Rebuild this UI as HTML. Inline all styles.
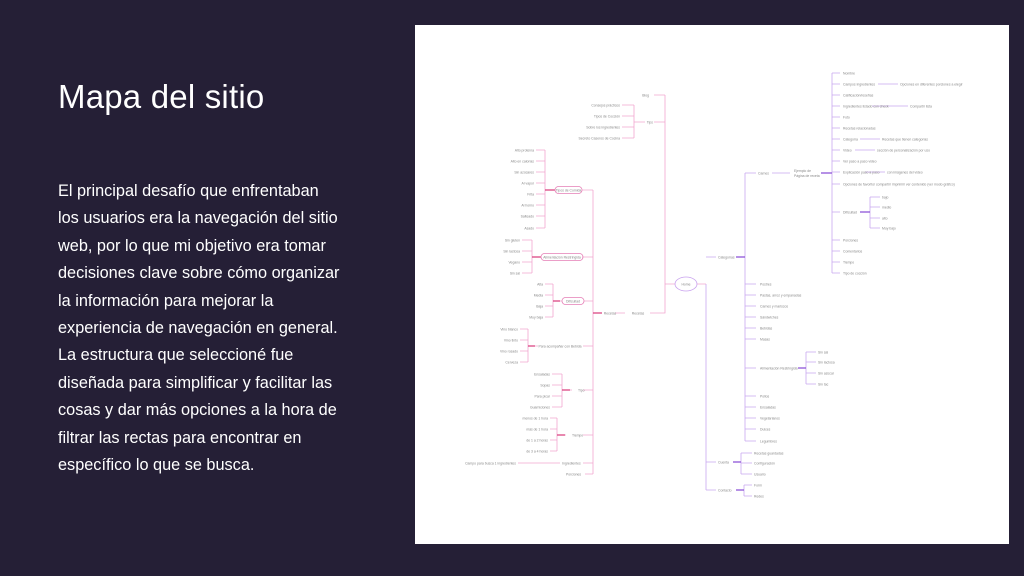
<!DOCTYPE html>
<html><head><meta charset="utf-8"><style>
html,body{margin:0;padding:0;}
body{width:1024px;height:576px;background:#251f36;position:relative;overflow:hidden;font-family:"Liberation Sans",sans-serif;color:#fff;}
h1{position:absolute;left:58px;top:78px;margin:0;font-weight:300;font-size:33px;letter-spacing:0.2px;}
p{position:absolute;left:58px;top:178px;margin:0;font-size:16.3px;line-height:27.4px;width:340px;white-space:nowrap;}
.panel{position:absolute;left:415px;top:25px;width:594px;height:519px;background:#fff;}
svg{position:absolute;left:0;top:0;}
text{font-family:"Liberation Sans",sans-serif;font-size:3.4px;fill:#888;}
</style></head><body>
<h1>Mapa del sitio</h1>
<p>El principal desafío que enfrentaban<br>los usuarios era la navegación del sitio<br>web, por lo que mi objetivo era tomar<br>decisiones clave sobre cómo organizar<br>la información para mejorar la<br>experiencia de navegación en general.<br>La estructura que seleccioné fue<br>diseñada para simplificar y facilitar las<br>cosas y dar más opciones a la hora de<br>filtrar las rectas para encontrar en<br>específico lo que se busca.</p>
<div class="panel"></div>
<svg width="1024" height="576" viewBox="0 0 1024 576">
<g fill="none" stroke-width="0.8">
<g stroke="#f2a6cf">
<path d="M697 284 H706 M675 284 H665 M665 95 V284 M665 95 H654 M665 122 H654 M634 105 V138 M622 105 H634 M622 116 H634 M622 127 H634 M622 138 H634 M634 122 H645"/>
<path d="M665 284 V313 H650 M625 313 H615 M593 190 V474 M593 190 H582 M593 257 H582 M593 301 H584 M593 346 H583 M593 390 H583 M593 435 H583 M593 463 H583 M593 474 H585"/>
<path d="M545 150 V228 M536 150 H545 M536 161 H545 M536 172 H545 M536 183 H545 M536 194 H545 M536 205 H545 M536 216 H545 M536 228 H545 M545 190 H555"/>
<path d="M532 240 V273 M522 240 H532 M522 251 H532 M522 262 H532 M522 273 H532 M532 257 H541"/>
<path d="M553 284 V317 M545 284 H553 M545 295 H553 M545 306 H553 M545 317 H553 M553 301 H562"/>
<path d="M528 329 V362 M520 329 H528 M520 340 H528 M520 351 H528 M520 362 H528 M528 346 H538"/>
<path d="M562 374 V407 M552 374 H562 M552 385 H562 M552 396 H562 M552 407 H562 M562 390 H572"/>
<path d="M557 418 V451 M550 418 H557 M550 429 H557 M550 440 H557 M550 451 H557 M557 435 H566 M518 463 H560"/>
</g>
<g stroke="#d9417f" stroke-width="1.2"><path d="M593 313 H602 M545 190 H555 M532 257 H541 M553 301 H560 M528 346 H535 M562 390 H570 M557 435 H565"/></g>
<rect x="555" y="186.5" width="27" height="7" rx="3.5" stroke="#e57fb6"/>
<rect x="541" y="253.5" width="42" height="7" rx="3.5" stroke="#e57fb6"/>
<rect x="562" y="297.5" width="22" height="7" rx="3.5" stroke="#e57fb6"/>
<ellipse cx="686" cy="284" rx="11" ry="7" stroke="#c9a2ee"/>
<g stroke="#c9a7f0">
<path d="M706 284 V490 M706 257 H716 M706 462 H716 M706 490 H716 M745 173 V441 M745 173 H756 M772 173 H790 M832 73 V273"/>
<path d="M832 73 H840 M832 84 H840 M832 95 H840 M832 106 H840 M832 117 H840 M832 128 H840 M832 139 H840 M832 150 H840 M832 161 H840 M832 172 H840 M832 184 H840 M832 212 H840 M832 240 H840 M832 251 H840 M832 262 H840 M832 273 H840"/>
<path d="M878 84 H898 M872 106 H908 M860 139 H880 M855 150 H875 M865 172 H885 M870 197 V228 M870 197 H880 M870 207 H880 M870 218 H880 M870 228 H880"/>
<path d="M745 284 H756 M745 295 H756 M745 306 H756 M745 317 H756 M745 328 H756 M745 339 H756 M745 368 H756 M745 396 H756 M745 407 H756 M745 418 H756 M745 429 H756 M745 441 H756"/>
<path d="M806 352 V384 M806 352 H816 M806 362 H816 M806 373 H816 M806 384 H816"/>
<path d="M741 453 V474 M741 453 H752 M741 463 H752 M741 474 H752 M744 485 V496 M744 485 H752 M744 496 H752"/>
</g>
<g stroke="#8a4fd6" stroke-width="1.2"><path d="M736 257 H745 M821 173 H832 M860 212 H870 M798 368 H806 M733 462 H741 M736 490 H744"/></g>
</g>
<g>
<text x="649" y="96.5" text-anchor="end">Blog</text>
<text x="653" y="123.5" text-anchor="end">Tips</text>
<text x="620" y="106.5" text-anchor="end">Consejos prácticos</text>
<text x="620" y="117.5" text-anchor="end">Tipos de Cocción</text>
<text x="620" y="128.5" text-anchor="end">Sobre los ingredientes</text>
<text x="620" y="139.5" text-anchor="end">Secreto Caseros de Cocina</text>
<text x="686" y="285.5" text-anchor="middle">Home</text>
<text x="638" y="314.5" text-anchor="middle">Recetas</text>
<text x="610" y="314.5" text-anchor="middle">Recetas</text>
<text x="568.5" y="191.5" text-anchor="middle">Tipos de Comida</text>
<text x="562" y="258.5" text-anchor="middle">Alimentación Restringida</text>
<text x="573" y="302.5" text-anchor="middle">Dificultad</text>
<text x="560" y="347.5" text-anchor="middle">Para acompañar con Bebida</text>
<text x="578" y="391.5">Tipo</text>
<text x="572" y="436.5">Tiempo</text>
<text x="562" y="464.5">Ingredientes</text>
<text x="566" y="475.5">Porciones</text>
<text x="534" y="151.5" text-anchor="end">Alto proteína</text>
<text x="534" y="162.5" text-anchor="end">Alto en calorías</text>
<text x="534" y="173.5" text-anchor="end">Sin azúcares</text>
<text x="534" y="184.5" text-anchor="end">Al vapor</text>
<text x="534" y="195.5" text-anchor="end">Frita</text>
<text x="534" y="206.5" text-anchor="end">Al horno</text>
<text x="534" y="217.5" text-anchor="end">Salteado</text>
<text x="534" y="229.5" text-anchor="end">Asado</text>
<text x="520" y="241.5" text-anchor="end">Sin gluten</text>
<text x="520" y="252.5" text-anchor="end">Sin lactosa</text>
<text x="520" y="263.5" text-anchor="end">Vegano</text>
<text x="520" y="274.5" text-anchor="end">Sin sal</text>
<text x="543" y="285.5" text-anchor="end">Alta</text>
<text x="543" y="296.5" text-anchor="end">Media</text>
<text x="543" y="307.5" text-anchor="end">Baja</text>
<text x="543" y="318.5" text-anchor="end">Muy baja</text>
<text x="518" y="330.5" text-anchor="end">Vino blanco</text>
<text x="518" y="341.5" text-anchor="end">Vino tinto</text>
<text x="518" y="352.5" text-anchor="end">Vino rosado</text>
<text x="518" y="363.5" text-anchor="end">Cerveza</text>
<text x="550" y="375.5" text-anchor="end">Ensaladas</text>
<text x="550" y="386.5" text-anchor="end">Sopas</text>
<text x="550" y="397.5" text-anchor="end">Para picar</text>
<text x="550" y="408.5" text-anchor="end">Guarniciones</text>
<text x="548" y="419.5" text-anchor="end">menos de 1 hora</text>
<text x="548" y="430.5" text-anchor="end">más de 1 hora</text>
<text x="548" y="441.5" text-anchor="end">de 1 a 2 horas</text>
<text x="548" y="452.5" text-anchor="end">de 3 a 4 horas</text>
<text x="516" y="464.5" text-anchor="end">Campo para busca 1 ingredientes</text>
<text x="718" y="258.5">Categorías</text>
<text x="718" y="463.5">Cuenta</text>
<text x="718" y="491.5">Contacto</text>
<text x="758" y="174.5">Carnes</text>
<text x="794" y="172">Ejemplo de</text>
<text x="794" y="177">Página de receta</text>
<text x="843" y="74.5">Nombre</text>
<text x="843" y="85.5">Campos ingredientes</text>
<text x="900" y="85.5">Opciones en diferentes porciones a elegir</text>
<text x="843" y="96.5">Calificación/reseñas</text>
<text x="843" y="107.5">Ingredientes listado con check</text>
<text x="910" y="107.5">Compartir lista</text>
<text x="843" y="118.5">Foto</text>
<text x="843" y="129.5">Recetas relacionadas</text>
<text x="843" y="140.5">Categoría</text>
<text x="882" y="140.5">Recetas que tienen categorías</text>
<text x="843" y="151.5">Video</text>
<text x="877" y="151.5">sección de personalización por uso</text>
<text x="843" y="162.5">Ver paso a paso video</text>
<text x="843" y="173.5">Explicación paso a paso</text>
<text x="887" y="173.5">con imágenes del video</text>
<text x="843" y="185.5">Opciones de favorito/ compartir/ imprimir/ ver contenido (ver modo gráfico)</text>
<text x="843" y="213.5">Dificultad</text>
<text x="882" y="198.5">bajo</text>
<text x="882" y="208.5">medio</text>
<text x="882" y="219.5">alto</text>
<text x="882" y="229.5">Muy bajo</text>
<text x="843" y="241.5">Porciones</text>
<text x="843" y="252.5">Comentarios</text>
<text x="843" y="263.5">Tiempo</text>
<text x="843" y="274.5">Tipo de cocción</text>
<text x="760" y="285.5">Postres</text>
<text x="760" y="296.5">Pastas, arroz y empanadas</text>
<text x="760" y="307.5">Carnes y mariscos</text>
<text x="760" y="318.5">Sándwiches</text>
<text x="760" y="329.5">Bebidas</text>
<text x="760" y="340.5">Masas</text>
<text x="760" y="369.5">Alimentación Restringida</text>
<text x="818" y="353.5">Sin sal</text>
<text x="818" y="363.5">Sin lactosa</text>
<text x="818" y="374.5">Sin azúcar</text>
<text x="818" y="385.5">Sin tac</text>
<text x="760" y="397.5">Pollos</text>
<text x="760" y="408.5">Ensaladas</text>
<text x="760" y="419.5">Vegetarianos</text>
<text x="760" y="430.5">Dulces</text>
<text x="760" y="442.5">Legumbres</text>
<text x="754" y="454.5">Recetas guardadas</text>
<text x="754" y="464.5">Configuración</text>
<text x="754" y="475.5">Usuario</text>
<text x="754" y="486.5">Form</text>
<text x="754" y="497.5">Redes</text>
</g>
</svg>
</body></html>
